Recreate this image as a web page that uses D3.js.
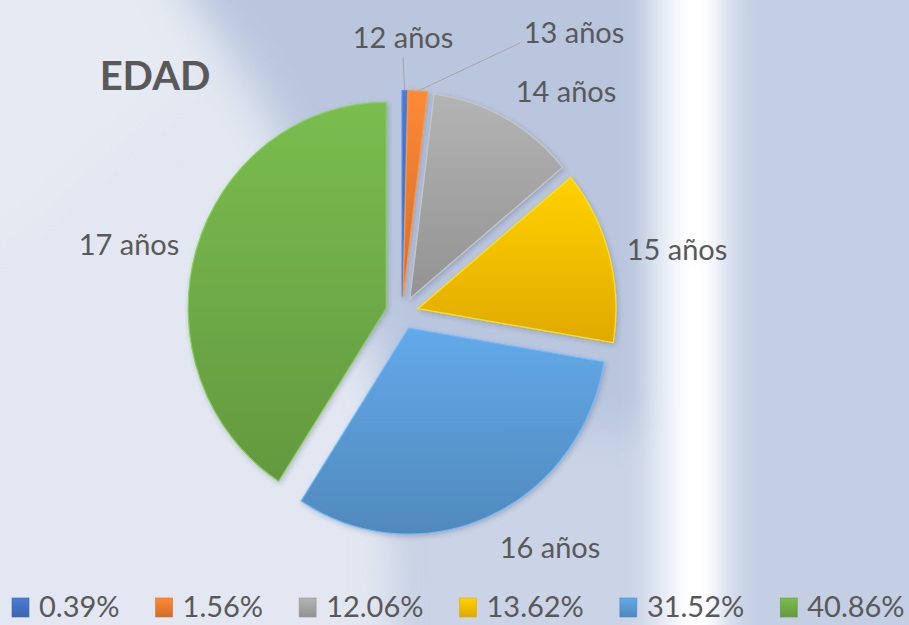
<!DOCTYPE html>
<html><head><meta charset="utf-8">
<script src="https://cdn.jsdelivr.net/npm/d3@7"></script>
<style>html,body{margin:0;padding:0;overflow:hidden;background:#dfe4ef}</style>
</head><body>
<svg id="chart" width="909" height="625"></svg>
<script>
// ---- data ----
const categories = ["12 años","13 años","14 años","15 años","16 años","17 años"];
const values = [0.39, 1.56, 12.06, 13.62, 31.52, 40.86];
const legendLabels = ["0.39%","1.56%","12.06%","13.62%","31.52%","40.86%"];
const title = "EDAD";

// ---- styles / layout ----
const baseColors = ["#4472C4","#ED7D31","#A5A5A5","#FFC000","#5B9BD5","#70AD47"];
const W = 909, H = 625;
const cx = 402, cy = 313, rY = 206, rX = 198, explode = 16.5;
// label anchor (text centre x, baseline y)
const labelLayout = [[403,48],[574,43],[566,102],[677,260],[550,558],[129,255]];
const leaderEnds = [[403,58],[520,43],null,null,null,null];

const svg = d3.select("#chart");
const defs = svg.append("defs");

// background
const blur = (id, s) => defs.append("filter").attr("id", id).attr("x","-50%").attr("y","-50%").attr("width","200%").attr("height","200%")
  .append("feGaussianBlur").attr("stdDeviation", s);
blur("b20", 22); blur("b14", 14); blur("b8", 8);
const bg = svg.append("g");
bg.append("rect").attr("width", W).attr("height", H).attr("fill", "#b9c6de");
bg.append("polygon").attr("points","-60,-60 150,-60 250,80 340,250 400,440 420,700 -60,700")
  .attr("fill","#e2e7f1").attr("filter","url(#b20)");
bg.append("polygon").attr("points","-60,-60 120,-60 200,70 -60,300")
  .attr("fill","#e6eaf3").attr("filter","url(#b20)");
bg.append("rect").attr("x",400).attr("y",430).attr("width",260).attr("height",260)
  .attr("fill","#cbd4e6").attr("filter","url(#b20)");
bg.append("rect").attr("x",700).attr("y",-40).attr("width",260).attr("height",720)
  .attr("fill","#c4cfe4").attr("filter","url(#b20)");
bg.append("rect").attr("x",650).attr("y",-40).attr("width",80).attr("height",720)
  .attr("fill","#eef2f9").attr("filter","url(#b14)");
bg.append("rect").attr("x",678).attr("y",-40).attr("width",34).attr("height",720)
  .attr("fill","#ffffff").attr("filter","url(#b8)");

// gradients for slices
baseColors.forEach((c, i) => {
  const g = defs.append("linearGradient").attr("id","g"+i).attr("x1",0).attr("y1",0).attr("x2",0).attr("y2",1);
  g.append("stop").attr("offset","0%").attr("stop-color", d3.color(c).brighter(0.25));
  g.append("stop").attr("offset","100%").attr("stop-color", d3.color(c).darker(0.35));
});
const sh = defs.append("filter").attr("id","shadow").attr("x","-20%").attr("y","-20%").attr("width","140%").attr("height","140%");
sh.append("feDropShadow").attr("dx",1.5).attr("dy",2).attr("stdDeviation",2.5).attr("flood-color","#2a3550").attr("flood-opacity",0.25);

const pie = d3.pie().sort(null).value(d => d)(values);
const arc = d3.arc().innerRadius(0).outerRadius(rY);
const sx = rX / rY;

const pieG = svg.append("g").attr("transform", `translate(${cx},${cy}) scale(${sx},1)`);
pie.forEach((p, i) => {
  const mid = (p.startAngle + p.endAngle) / 2;
  const ox = Math.sin(mid) * explode / sx, oy = -Math.cos(mid) * explode;
  pieG.append("path").attr("d", arc(p))
    .attr("transform", `translate(${ox},${oy})`)
    .attr("fill", `url(#g${i})`)
    .attr("stroke", d3.color(baseColors[i]).brighter(0.5))
    .attr("stroke-width", 1.2)
    .attr("vector-effect","non-scaling-stroke")
    .attr("filter","url(#shadow)");
});

// leader lines
pie.forEach((p, i) => {
  if (!leaderEnds[i]) return;
  const mid = (p.startAngle + p.endAngle) / 2;
  const x0 = cx + Math.sin(mid) * (rX + explode), y0 = cy - Math.cos(mid) * (rY + explode);
  svg.append("line").attr("x1", x0).attr("y1", y0)
    .attr("x2", leaderEnds[i][0]).attr("y2", leaderEnds[i][1])
    .attr("stroke","#a6a6a6").attr("stroke-width",1);
});

const font = "Lato, 'Open Sans', sans-serif";
// category labels
categories.forEach((c, i) => {
  svg.append("text").attr("x", labelLayout[i][0]).attr("y", labelLayout[i][1])
    .attr("text-anchor","middle").attr("font-family", font).attr("font-size", 29)
    .attr("fill","#595959").text(c);
});

// title
svg.append("text").attr("x",155).attr("y",90).attr("text-anchor","middle")
  .attr("font-family", font).attr("font-weight","bold").attr("font-size",40)
  .attr("fill","#595959").text(title);

// legend
const leg = svg.append("g");
let x = 12;
legendLabels.forEach((t, i) => {
  leg.append("rect").attr("x", x).attr("y", 598).attr("width", 17).attr("height", 19)
    .attr("fill", `url(#g${i})`).attr("stroke", d3.color(baseColors[i]).darker(0.3)).attr("stroke-width",0.6);
  const tx = leg.append("text").attr("x", x + 27).attr("y", 617)
    .attr("font-family", font).attr("font-size", 29).attr("fill","#595959").text(t);
  const w = tx.node().getComputedTextLength();
  x = x + 27 + w + 36;
});
</script>
</body></html>
